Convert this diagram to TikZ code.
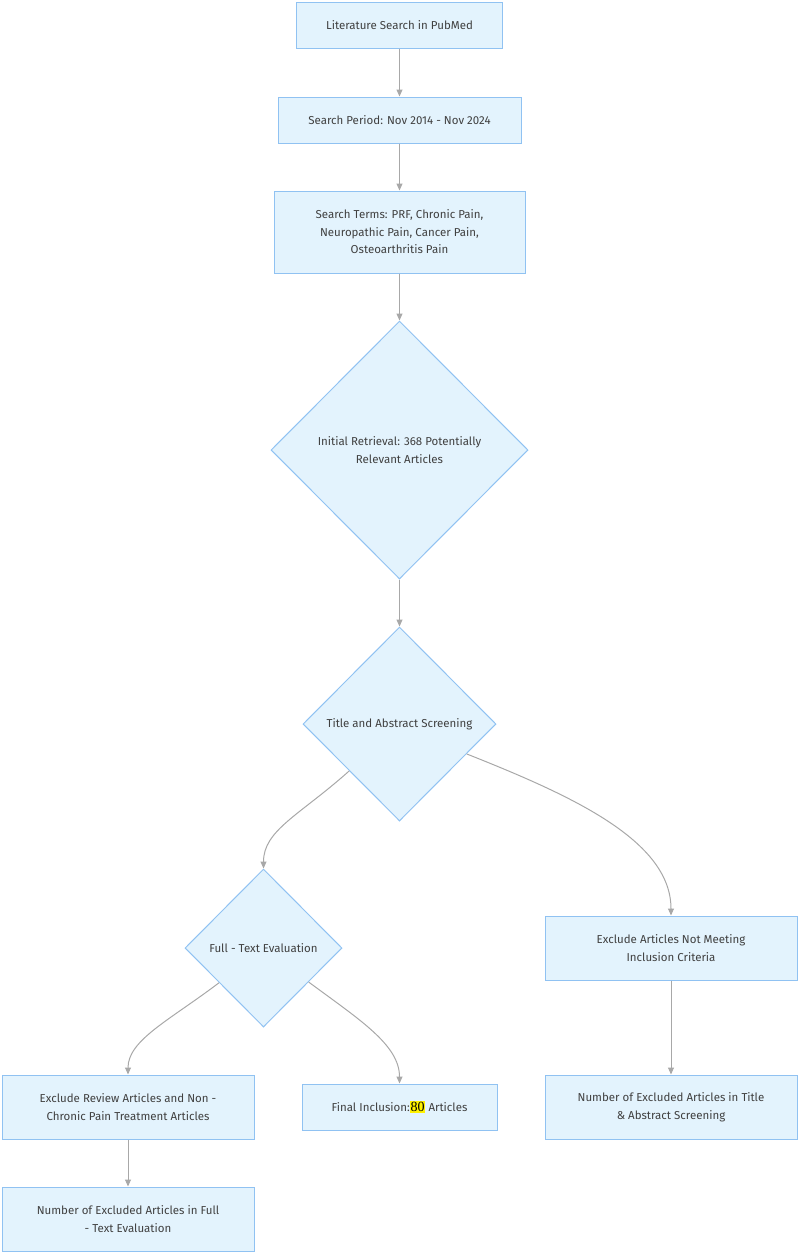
\documentclass[tikz,border=0pt]{standalone}
\usepackage{fontspec}
\setmainfont{Fira Sans}
\newfontfamily\hlfont{Liberation Serif}
\usetikzlibrary{shapes.geometric,arrows.meta}
\definecolor{boxfill}{HTML}{E3F3FD}
\definecolor{boxline}{HTML}{90C2F2}
\definecolor{edgegray}{HTML}{A8A8A8}
\tikzset{
	stepbox/.style={draw=boxline, fill=boxfill, line width=1pt, align=center,
		font=\fontsize{11.5}{17.5}\selectfont, text=black!75, inner sep=0pt},
	decision/.style={stepbox, diamond, shape aspect=1},
	flow/.style={draw=edgegray, line width=1pt, -{Triangle[length=7pt,width=6pt]}}
}
\begin{document}
\begin{tikzpicture}[x=1pt, y=-1pt]
		\useasboundingbox (0,0) rectangle (800,1254);
		% main column
		\node[stepbox, minimum width=206pt, minimum height=46pt] (search) at (399.5,25) {Literature Search in PubMed};
		\node[stepbox, minimum width=243pt, minimum height=46pt] (period) at (399.5,120) {Search Period: Nov 2014 - Nov 2024};
		\node[stepbox, minimum width=251pt, minimum height=82pt] (terms) at (399.5,232) {Search Terms: PRF, Chronic Pain,\\ Neuropathic Pain, Cancer Pain,\\ Osteoarthritis Pain};
		\node[decision, minimum width=257pt, minimum height=258pt] (retrieval) at (399.5,450) {Initial Retrieval: 368 Potentially\\ Relevant Articles};
		\node[decision, minimum width=193pt, minimum height=194pt] (screen) at (399.5,724) {Title and Abstract Screening};
		% left branch
		\node[decision, minimum width=157pt, minimum height=158pt] (fulltext) at (263.5,948) {Full - Text Evaluation};
		\node[stepbox, minimum width=252pt, minimum height=64pt] (review) at (128,1107) {Exclude Review Articles and Non -\\ Chronic Pain Treatment Articles};
		\node[stepbox, minimum width=252pt, minimum height=64pt] (exclfull) at (128,1219) {Number of Excluded Articles in Full\\ - Text Evaluation};
		\node[stepbox, minimum width=195pt, minimum height=46pt] (final) at (399.5,1107) {Final Inclusion:{\hlfont\fontsize{14}{14}\selectfont\color{black}\setlength{\fboxsep}{0.8pt}\colorbox{yellow}{80}} Articles};
		% right branch
		\node[stepbox, minimum width=252pt, minimum height=64pt] (notmeet) at (671,948) {Exclude Articles Not Meeting\\ Inclusion Criteria};
		\node[stepbox, minimum width=252pt, minimum height=64pt] (excltitle) at (671,1107) {Number of Excluded Articles in Title\\ \& Abstract Screening};
		% connectors
		\draw[flow] (search) -- (period);
		\draw[flow] (period) -- (terms);
		\draw[flow] (terms) -- (retrieval);
		\draw[flow] (retrieval) -- (screen);
		\draw[flow] (screen.223) .. controls (300,815) and (263.5,830) .. (fulltext.north);
		\draw[flow] (screen.-24) .. controls (570,795) and (671,840) .. (notmeet.north);
		\draw[flow] (fulltext.218) .. controls (170,1020) and (128,1040) .. (review.north);
		\draw[flow] (fulltext.-37) .. controls (360,1020) and (399.5,1045) .. (final.north);
		\draw[flow] (notmeet) -- (excltitle);
		\draw[flow] (review) -- (exclfull);
\end{tikzpicture}
\end{document}
